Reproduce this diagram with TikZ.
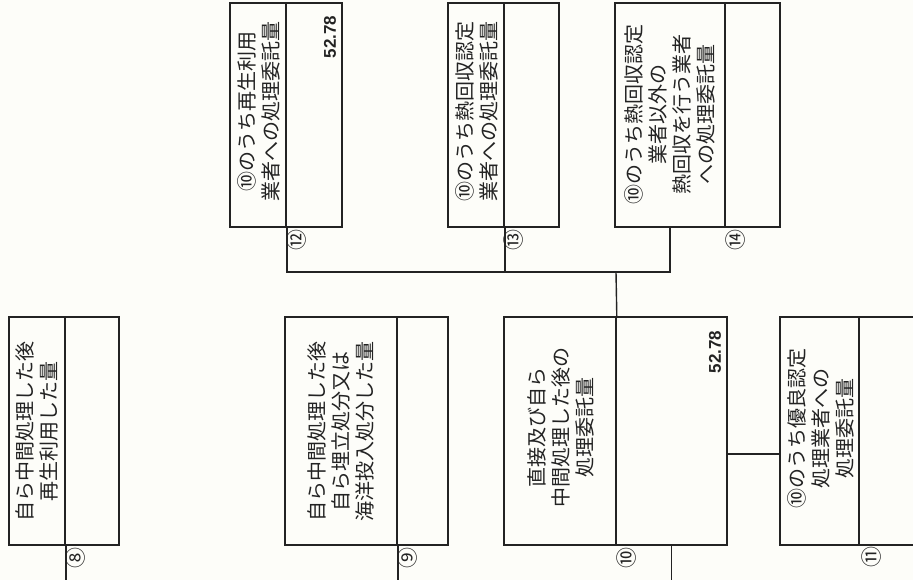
\documentclass[tikz,border=0pt]{standalone}
\usepackage{fontspec}
\setmainfont{Noto Sans CJK JP}
\newfontfamily\numfont{Liberation Sans}
\definecolor{paper}{RGB}{253,253,249}
\definecolor{ink}{RGB}{35,35,35}

\begin{document}
\begin{tikzpicture}[x=1pt,y=-1pt]

\tikzset{
  cell/.style={draw=ink,rectangle,inner sep=0pt,line width=1.6pt},
  vtxt/.style={rotate=90,align=center,inner sep=0pt,text=ink,font=\fontsize{20}{24}\selectfont},
  amount/.style={rotate=90,inner sep=0pt,text=ink,font=\numfont\bfseries\fontsize{17}{17}\selectfont},
  tag/.style={rotate=90,inner sep=0pt,text=ink,font=\fontsize{21}{21}\selectfont},
  wire/.style={draw=ink,line width=1.4pt}
}
  \useasboundingbox (0,0) rectangle (913,580);
  \clip (0,0) rectangle (913,580);
  \fill[paper] (0,0) rectangle (913,580);

  % upper row
  \node[cell,minimum width=56pt,minimum height=224pt] (t12) at (258,115) {};
  \node[cell,minimum width=56pt,minimum height=224pt] (v12) at (314,115) {};
  \node[cell,minimum width=56pt,minimum height=224pt] (t13) at (476,115) {};
  \node[cell,minimum width=55pt,minimum height=224pt] (v13) at (531.5,115) {};
  \node[cell,minimum width=110pt,minimum height=224pt] (t14) at (670,115) {};
  \node[cell,minimum width=55pt,minimum height=224pt] (v14) at (752.5,115) {};

  % lower row
  \node[cell,minimum width=56pt,minimum height=228pt] (t8) at (37,431) {};
  \node[cell,minimum width=54pt,minimum height=228pt] (v8) at (92,431) {};
  \node[cell,minimum width=112pt,minimum height=228pt] (t9) at (341,431) {};
  \node[cell,minimum width=51pt,minimum height=228pt] (v9) at (422.5,431) {};
  \node[cell,minimum width=112pt,minimum height=228pt] (t10) at (560,431) {};
  \node[cell,minimum width=111pt,minimum height=228pt] (v10) at (671.5,431) {};
  \node[cell,minimum width=79pt,minimum height=228pt] (t11) at (819.5,431) {};
  \node[cell,minimum width=80pt,minimum height=228pt] (v11) at (899,431) {};

  % texts
  \node[vtxt] (l8) at (t8.center) {自ら中間処理した後\\再生利用した量};
  \node[vtxt] (l9) at (t9.center) {自ら中間処理した後\\自ら埋立処分又は\\海洋投入処分した量};
  \node[vtxt] (l10) at (561,427) {直接及び自ら\\中間処理した後の\\処理委託量};
  \node[vtxt] (l11) at (821,428) {⑩のうち優良認定\\処理業者への\\処理委託量};
  \node[vtxt] (l12) at (259,112) {⑩のうち再生利用\\業者への処理委託量};
  \node[vtxt] (l13) at (477,112) {⑩のうち熱回収認定\\業者への処理委託量};
  \node[vtxt] (l14) at (t14.center) {⑩のうち熱回収認定\\業者以外の\\熱回収を行う業者\\への処理委託量};

  \node[amount] (n10) at (715,352) {52.78};
  \node[amount] (n12) at (330,37) {52.78};

  % numbers
  \node[tag] (c8) at (76,558) {⑧};
  \node[tag] (c9) at (408,558) {⑨};
  \node[tag] (c10) at (627,558) {⑩};
  \node[tag] (c11) at (872,557) {⑪};
  \node[tag] (c12) at (297,240) {⑫};
  \node[tag] (c13) at (514,240) {⑬};
  \node[tag] (c14) at (736,240) {⑭};

  % lines
  \coordinate (bus) at (616,272);
  \coordinate (edge) at (0,580);
  \draw[wire] (t12.south east) |- (bus) -| (t14.south);
  \draw[wire] (t13.south east) -- (t13.south east |- bus);
  \draw[wire] (bus) -- (t10.north east);
  \draw[wire] ([yshift=-23pt]v10.east) -- ([yshift=-23pt]t11.west);
  \draw[wire] (t8.south east) -- (t8.south east |- edge);
  \draw[wire] (t9.south east) -- (t9.south east |- edge);
  \draw[wire] (v10.south) -- (v10.south |- edge);

\end{tikzpicture}
\end{document}
